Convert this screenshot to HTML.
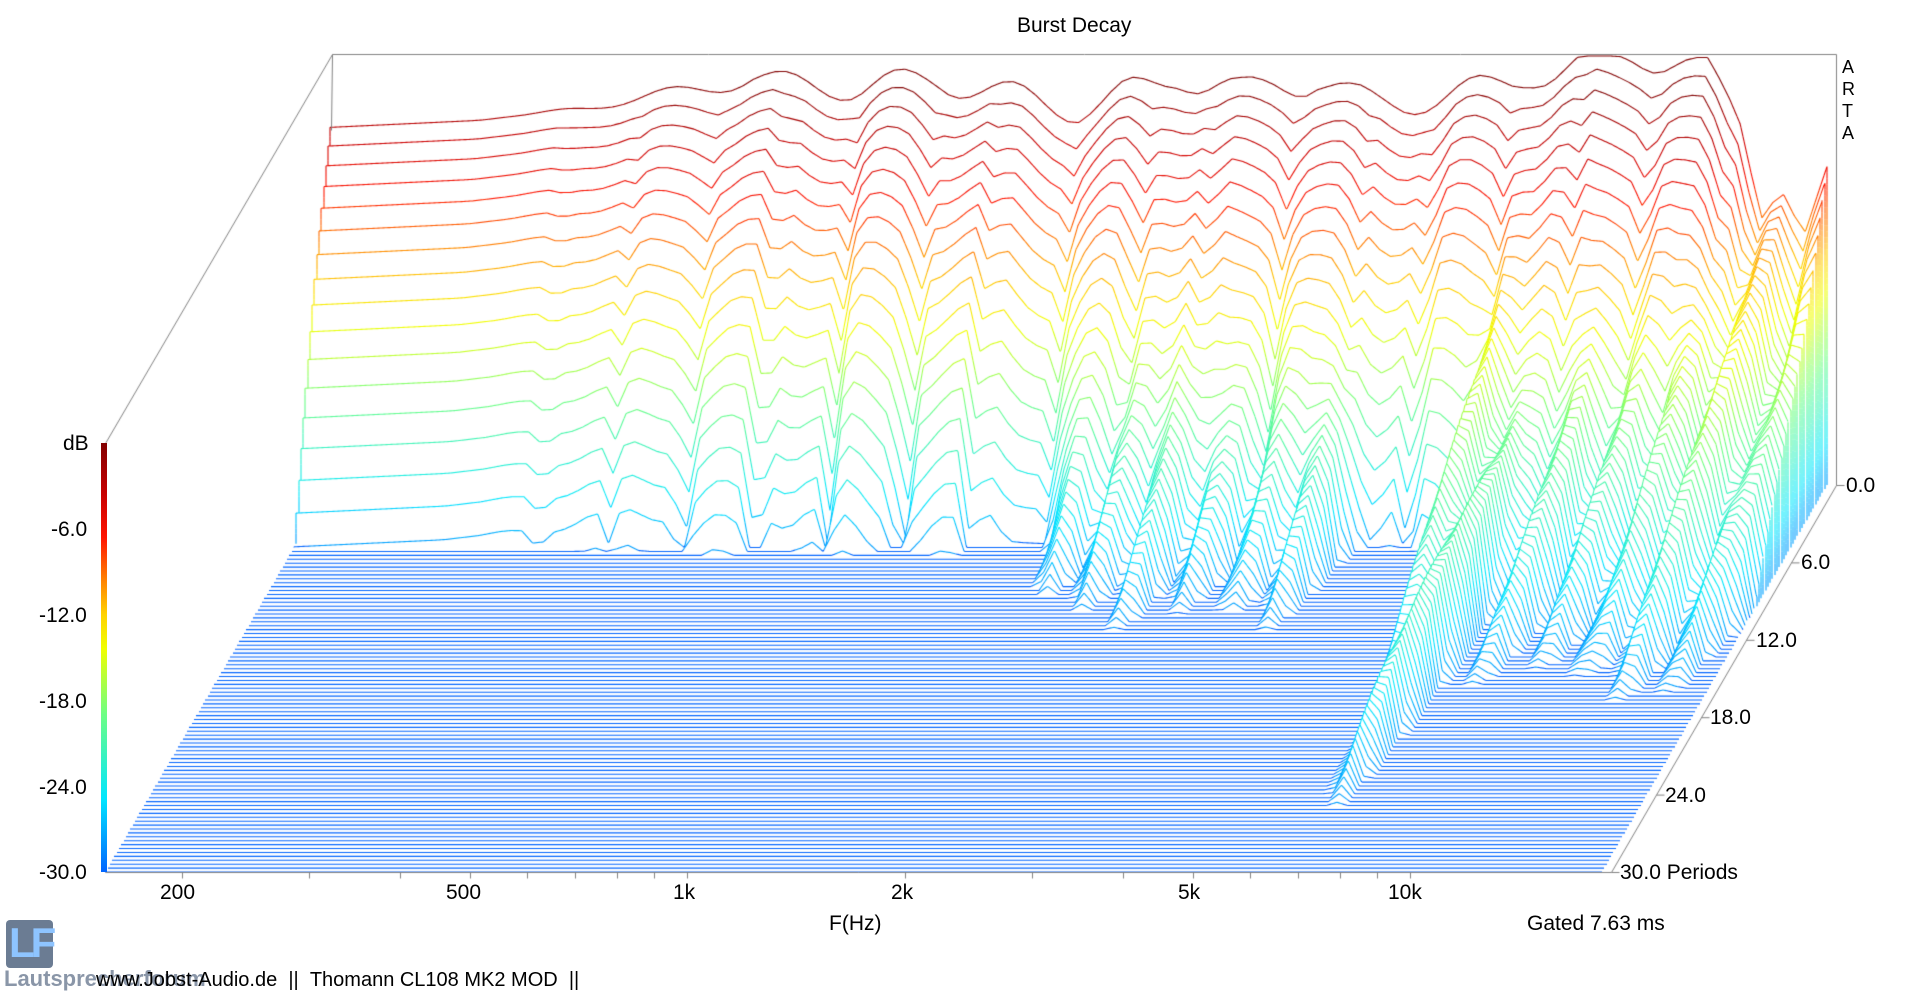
<!DOCTYPE html>
<html><head><meta charset="utf-8">
<style>
html,body{margin:0;padding:0;background:#fff;}
body{width:1909px;height:986px;position:relative;overflow:hidden;font-family:"Liberation Sans",sans-serif;color:#000;}
canvas{position:absolute;left:0;top:0;}
.t{position:absolute;white-space:nowrap;font-size:21px;line-height:1;}
#cb{position:absolute;left:101px;top:443px;width:6px;height:429px;
background:linear-gradient(to top,#0064ff 0%,#00e6ff 17%,#6eff82 37%,#f0ff00 52%,#ffd200 60%,#ff8200 68%,#ff1400 78%,#c80000 88%,#820000 100%);}
</style></head><body>
<canvas id="c" width="1909" height="986"></canvas>
<div id="cb"></div>
<div class="t" style="left:1017px;top:15px;">Burst Decay</div>
<div class="t" style="left:63px;top:433px;">dB</div>
<div class="t" style="left:51px;top:519px;">-6.0</div>
<div class="t" style="left:39px;top:605px;">-12.0</div>
<div class="t" style="left:39px;top:691px;">-18.0</div>
<div class="t" style="left:39px;top:777px;">-24.0</div>
<div class="t" style="left:39px;top:862px;">-30.0</div>
<div class="t" style="left:160px;top:882px;">200</div>
<div class="t" style="left:446px;top:882px;">500</div>
<div class="t" style="left:673px;top:882px;">1k</div>
<div class="t" style="left:891px;top:882px;">2k</div>
<div class="t" style="left:1178px;top:882px;">5k</div>
<div class="t" style="left:1388px;top:882px;">10k</div>
<div class="t" style="left:829px;top:913px;">F(Hz)</div>
<div class="t" style="left:1527px;top:913px;">Gated 7.63 ms</div>
<div class="t" style="left:1846px;top:475px;">0.0</div>
<div class="t" style="left:1801px;top:552px;">6.0</div>
<div class="t" style="left:1756px;top:630px;">12.0</div>
<div class="t" style="left:1710px;top:707px;">18.0</div>
<div class="t" style="left:1665px;top:785px;">24.0</div>
<div class="t" style="left:1620px;top:862px;">30.0 Periods</div>
<div class="t" style="left:1842px;top:56px;font-size:18px;line-height:22px;">A<br>R<br>T<br>A</div>
<div style="position:absolute;left:6px;top:920px;width:47px;height:48px;background:#6b7c93;border-radius:4px;"></div>
<div class="t" style="left:9px;top:922px;font-size:42px;font-weight:bold;color:#8ec4ff;letter-spacing:-4px;">LF</div>
<div class="t" style="left:4px;top:968px;font-size:22px;font-weight:bold;color:#8a96a8;">Lautsprecherforum</div>
<div class="t" style="left:96px;top:970px;font-size:20px;">www.Jobst-Audio.de&nbsp;&nbsp;||&nbsp;&nbsp;Thomann CL108 MK2 MOD&nbsp;&nbsp;||</div>
<script>
const cv=document.getElementById('c'),ctx=cv.getContext('2d');
const NS=100;
function xOf(u,s){return 182+723*u+225*(1-s/(NS-1));}
function yF(s){return 485+387*s/(NS-1);}
function yOf(L,s){return yF(s)-(L+30)*14.3;}
const AP=[[-0.11,-5],[0.1,-4.5],[0.25,-3.6],[0.48,-1.6],[0.62,-2.3],[0.73,-1.6],[0.93,-3.8],[1.07,-1.6],[1.15,-2.6],[1.26,-1.8],[1.34,-3.6],[1.5,-2.2],[1.7,0],[1.8,-1.2],[1.85,-6],[1.88,-15],[1.92,-17],[1.975,-8]];
function A(u){for(let i=0;i<AP.length-1;i++){if(u<=AP[i+1][0]){const a=AP[i],b=AP[i+1];return a[1]+(b[1]-a[1])*(u-a[0])/(b[0]-a[0]);}}return AP[AP.length-1][1];}
function g(u,m,w){return Math.exp(-((u-m)*(u-m))/(2*w*w));}
function tail(u,s){
 const R=[[1.0,0.03,-17,0.45],[1.1,0.03,-16,0.42],[1.2,0.03,-17,0.45],[1.3,0.03,-16,0.42],
          [1.55,0.02,-15,0.19],[1.63,0.025,-17,0.3],[1.7,0.03,-16,0.33],[1.78,0.025,-16,0.32],[1.86,0.03,-13,0.33],[1.93,0.03,-14,0.38]];
 let p=0;
 for(const r of R){const w=g(u,r[0],r[1]);if(w<0.05)continue;const L=r[2]+10*Math.log10(w)*0.6-r[3]*s;p+=Math.pow(10,L/10);}
 return p;
}
function Lv(u,s){
 const c=u>0.85?1.08:1.0;
 let L=A(u)-c*(1.0*s+0.035*s*s);
 const amp=Math.max(0,Math.min(1,(u-0.15)/0.5));
 const ph=(u-0.93)/0.1*2*Math.PI;
 const cs=Math.max(0,Math.cos(ph));
 L-=amp*Math.min(14,0.45*s)*Math.pow(cs,4);
 L+=(1+0.06*s)*Math.sin(u*2*Math.PI/0.16+s*0.08)*amp;
 let p=Math.pow(10,L/10)+tail(u,s)*(1+0.5*Math.sin(u*90+s*0.1));
 L=10*Math.log10(p);
 return Math.max(-30,Math.min(0,L));
}
const ST=[[0,[0,100,255]],[0.17,[0,230,255]],[0.37,[110,255,130]],[0.52,[240,255,0]],[0.6,[255,210,0]],[0.68,[255,130,0]],[0.78,[255,20,0]],[0.88,[200,0,0]],[1,[130,0,0]]];
const NB=64,cols=[];
for(let i=0;i<NB;i++){const t=i/(NB-1);let k=0;while(k<ST.length-2&&t>ST[k+1][0])k++;const a=ST[k],b=ST[k+1];const f=(t-a[0])/(b[0]-a[0]);
 cols.push('rgb('+a[1].map((v,j)=>Math.round(v+(b[1][j]-v)*f)).join(',')+')');}
const buckets=[];for(let i=0;i<NB;i++)buckets.push([]);
function bi(L){if(L<-29.9)return 0;L+=2;return Math.max(0,Math.min(NB-1,Math.round((L+30)/30*(NB-1))));}
const h=new Float64Array(1909).fill(1e9);
const uMin=-0.106,uMax=1.975,du=0.015;
for(let s=NS-1;s>=0;s--){
 const pts=[];
 for(let u=uMin;u<=uMax+1e-9;u+=du){const L=Lv(u,s);pts.push([xOf(u,s),yOf(L,s),L]);}
 const yb=yF(s);
 const x0=Math.round(pts[0][0]),xN=Math.round(pts[pts.length-1][0]);
 const ys=new Float64Array(1909),ls=new Float64Array(1909);
 let k=0;
 for(let x=x0;x<=xN;x++){while(k<pts.length-2&&pts[k+1][0]<x)k++;const a=pts[k],b=pts[k+1];let f=(x-a[0])/(b[0]-a[0]);f=Math.max(0,Math.min(1,f));ys[x]=a[1]+(b[1]-a[1])*f;ls[x]=a[2]+(b[2]-a[2])*f;}
 [[x0,pts[0]],[xN,pts[pts.length-1]]].forEach(([xe,p])=>{
  const yt=p[1];if(yt<yb-0.5&&yt<h[xe]){const bot=Math.min(yb,h[xe]);
   const n=Math.max(1,Math.ceil((bot-yt)/6));
   for(let i=0;i<n;i++){const y1=bot-(bot-yt)*i/n,y2=bot-(bot-yt)*(i+1)/n;const L=((yb-(y1+y2)/2)/14.3)-30;buckets[bi(L)].push([xe,y1,xe,y2]);}}
 });
 for(let x=x0;x<xN;x++){
  const y1=ys[x],y2=ys[x+1];const d1=y1-h[x],d2=y2-h[x+1];
  const L=(ls[x]+ls[x+1])/2,b=bi(L);
  if(d1<=0.5&&d2<=0.5)buckets[b].push([x,y1,x+1,y2]);
  else if(d1<=0.5||d2<=0.5){const t=d1/(d1-d2);const xc=x+t,yc=y1+(y2-y1)*t;
   if(d1<=0.5)buckets[b].push([x,y1,xc,yc]);else buckets[b].push([xc,yc,x+1,y2]);}
 }
 for(let x=x0;x<=xN;x++){if(ys[x]<h[x])h[x]=ys[x];}
}
ctx.lineWidth=1.1;
for(let i=0;i<NB;i++){const B=buckets[i];if(!B.length)continue;ctx.strokeStyle=cols[i];ctx.beginPath();
 for(const q of B){ctx.moveTo(q[0],q[1]);ctx.lineTo(q[2],q[3]);}ctx.stroke();}
ctx.strokeStyle='#808080';ctx.lineWidth=1;
function ln(a,b,c,d){ctx.beginPath();ctx.moveTo(a+0.5,b+0.5);ctx.lineTo(c+0.5,d+0.5);ctx.stroke();}
ln(332,54,1836,54);ln(1836,54,1836,485);ln(332,54,105,443);ln(332,54,331,130);
ln(105,872,1611,872);ln(1611,872,1836,485);
for(let i=0;i<=5;i++){const x=1836-45*i,y=485+77.4*i;ln(x,y,x+8,y);}
const tk=[200,300,400,500,600,700,800,900,1000,2000,3000,4000,5000,6000,7000,8000,9000,10000];
for(const f of tk){const x=Math.round(182+723*Math.log10(f/200));ln(x,872,x,878);}
</script>
</body></html>
